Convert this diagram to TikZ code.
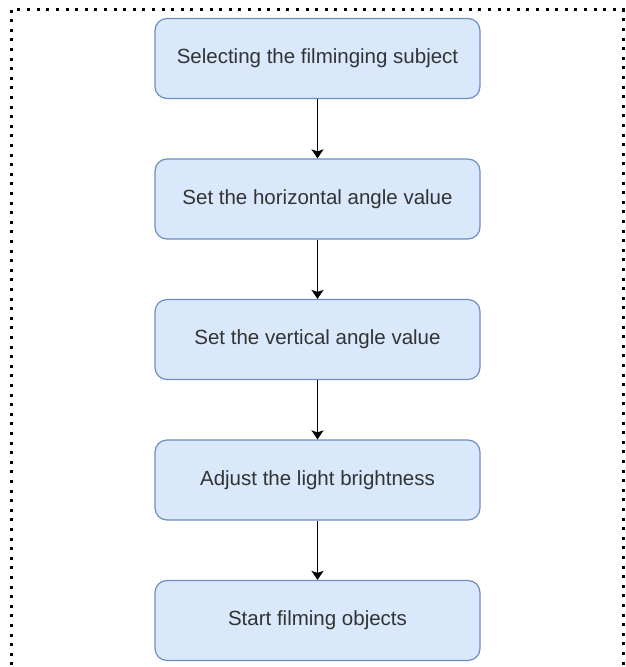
\documentclass[tikz,border=0pt]{standalone}
\usepackage{fontspec}
\setmainfont{Liberation Sans}
\usetikzlibrary{arrows.meta}
\definecolor{stepfill}{HTML}{DAE8FC}
\definecolor{stepline}{HTML}{6C8EBF}
\definecolor{steptext}{HTML}{333333}
\begin{document}
\begin{tikzpicture}[x=1pt,y=-1pt,
  stepbox/.style={draw=stepline, fill=stepfill, line width=1.2pt,
    rounded corners=12pt, minimum width=325pt, minimum height=80pt,
    inner sep=0pt, text=steptext, font=\fontsize{20.5}{24}\selectfont},
  flow/.style={draw=black, line width=1.8pt,
    -{Stealth[length=9pt,width=12pt,inset=2pt]}},
  frame/.style={draw=black, line width=3pt, dash pattern=on 3pt off 6.6pt}]
  \useasboundingbox (0,0) rectangle (625,667);

  % dotted frame (bottom edge lies below the page)
  \draw[frame] (11,675) -- (11,9.5) -- (623,9.5) -- (623,675);

  % process steps
  \node[stepbox] (s1) at (317.5,58.5)  {Selecting the filminging subject};
  \node[stepbox] (s2) at (317.5,199)   {Set the horizontal angle value};
  \node[stepbox] (s3) at (317.5,339.5) {Set the vertical angle value};
  \node[stepbox] (s4) at (317.5,480)   {Adjust the light brightness};
  \node[stepbox] (s5) at (317.5,620.5) {Start filming objects};

  % connectors
  \draw[flow] (s1) -- (s2);
  \draw[flow] (s2) -- (s3);
  \draw[flow] (s3) -- (s4);
  \draw[flow] (s4) -- (s5);
\end{tikzpicture}
\end{document}
